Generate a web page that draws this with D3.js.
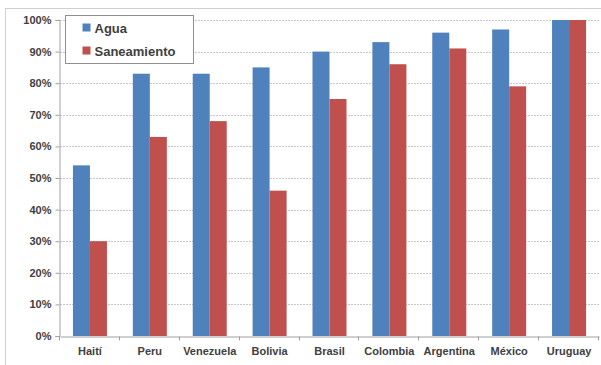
<!DOCTYPE html>
<meta charset="utf-8">
<html>
<head>
  <script src="https://cdn.jsdelivr.net/npm/d3@7"></script>
  <style>
    body { margin: 0; background: #fff; }
    text { font-family: "Liberation Sans", Arial, sans-serif; font-weight: bold; fill: #404040; }
  </style>
</head>
<body>
  <svg id="svg" width="601" height="365"></svg>
  <script>
    // Data
    var paises = ["Haití", "Peru", "Venezuela", "Bolivia", "Brasil", "Colombia", "Argentina", "México", "Uruguay"];
    var agua = [54, 83, 83, 85, 90, 93, 96, 97, 100];
    var saneamiento = [30, 63, 68, 46, 75, 86, 91, 79, 100];
    var series = ["Agua", "Saneamiento"];
    var colores = ["#4f81bd", "#c0504d"];
    var yTicks = [0, 10, 20, 30, 40, 50, 60, 70, 80, 90, 100];

    var svg = d3.select("#svg");

    // outer frame (runs off the right and bottom edges like the original)
    svg.append("rect")
      .attr("x", 5.5).attr("y", 8.5)
      .attr("width", 600).attr("height", 360)
      .attr("fill", "none")
      .attr("stroke", "#d0d0d0");

    // plot area (note: "top" is a window property, so use other names)
    var plotL = 60, plotR = 599, plotT = 20, plotB = 336;

    var x = d3.scaleBand().domain(paises).range([plotL, plotR]);
    var y = d3.scaleLinear().domain([0, 100]).range([plotB, plotT]);
    var barW = 17;

    // gridlines
    svg.append("g")
      .selectAll("line")
      .data(yTicks.slice(1))
      .enter()
      .append("line")
      .attr("x1", plotL).attr("x2", plotR)
      .attr("y1", function (d) { return Math.round(y(d)) + 0.5; })
      .attr("y2", function (d) { return Math.round(y(d)) + 0.5; })
      .attr("stroke", "#c8c8c8")
      .attr("stroke-dasharray", "2,1");

    // bars
    var data = paises.map(function (p, i) { return { pais: p, v: [agua[i], saneamiento[i]] }; });
    var groups = svg.append("g")
      .selectAll("g")
      .data(data)
      .enter()
      .append("g")
      .attr("transform", function (d) { return "translate(" + (x(d.pais) + x.bandwidth() / 2) + ",0)"; });

    groups.selectAll("rect")
      .data(function (d) { return d.v; })
      .enter()
      .append("rect")
      .attr("x", function (d, i) { return i === 0 ? -barW : 0; })
      .attr("y", function (d) { return y(d); })
      .attr("width", barW)
      .attr("height", function (d) { return plotB - y(d); })
      .attr("fill", function (d, i) { return colores[i]; });

    // y axis
    var yAxis = svg.append("g")
      .attr("transform", "translate(" + (plotL - 0.5) + ",0)")
      .call(d3.axisLeft(y).tickValues(yTicks).tickSize(4).tickPadding(4)
        .tickFormat(function (d) { return d + "%"; }));
    yAxis.select(".domain").attr("stroke", "#a0a0a0");
    yAxis.selectAll(".tick line").attr("stroke", "#a0a0a0");
    yAxis.selectAll("text").style("font-size", "11px").attr("fill", "#404040");

    // x axis
    var xAxis = svg.append("g")
      .attr("transform", "translate(0," + (plotB + 0.5) + ")")
      .call(d3.axisBottom(x).tickSize(0).tickPadding(11));
    xAxis.select(".domain").attr("stroke", "#a0a0a0");
    xAxis.selectAll("text").style("font-size", "11px").attr("fill", "#404040");
    xAxis.selectAll(".tick line").remove();
    xAxis.append("g")
      .selectAll("line")
      .data(paises.concat(["fin"]))
      .enter()
      .append("line")
      .attr("x1", function (d, i) { return Math.round(plotL + i * x.bandwidth()) - 0.5; })
      .attr("x2", function (d, i) { return Math.round(plotL + i * x.bandwidth()) - 0.5; })
      .attr("y1", 0).attr("y2", 4)
      .attr("stroke", "#a0a0a0");

    // legend
    var legend = svg.append("g").attr("transform", "translate(65.5,15.5)");
    legend.append("rect")
      .attr("width", 128).attr("height", 48)
      .attr("fill", "#fff")
      .attr("stroke", "#909090");
    var items = legend.selectAll("g.item")
      .data(series)
      .enter()
      .append("g")
      .attr("class", "item")
      .attr("transform", function (d, i) { return "translate(0," + (12 + i * 23) + ")"; });
    items.append("rect")
      .attr("x", 17).attr("y", -4)
      .attr("width", 8).attr("height", 8)
      .attr("fill", function (d, i) { return colores[i]; });
    items.append("text")
      .attr("x", 29).attr("y", 5)
      .style("font-size", "13px")
      .attr("fill", "#202020")
      .text(function (d) { return d; });
  </script>
</body>
</html>
